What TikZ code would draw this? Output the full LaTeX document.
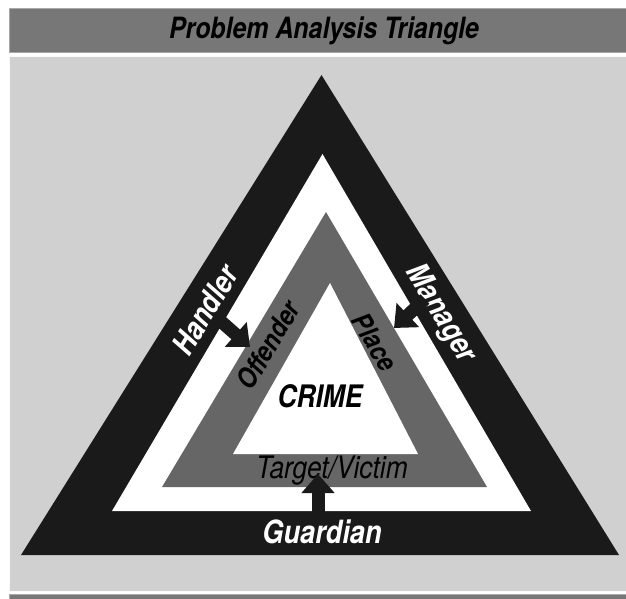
\documentclass[tikz,border=0pt]{standalone}
\usepackage{fontspec}
\setsansfont{TeX Gyre Heros}[FakeStretch=0.85]
\usetikzlibrary{arrows.meta}

\definecolor{bandblack}{HTML}{1A1A1A}
\definecolor{bandgray}{HTML}{666666}
\definecolor{panelgray}{HTML}{D0D0D0}
\definecolor{headgray}{HTML}{777777}
\definecolor{edgegray}{HTML}{A8A8A8}

\tikzset{
  word/.style={font=\sffamily\bfseries\itshape\fontsize{#1}{#1}\selectfont, inner sep=0pt},
  plainword/.style={font=\sffamily\itshape\fontsize{#1}{#1}\selectfont, inner sep=0pt},
  push/.style={line width=13pt, -{Triangle[width=32pt,length=19pt]}, color=bandblack},
}

\begin{document}
\begin{tikzpicture}[x=1pt, y=-1pt]
    \useasboundingbox[fill=white] (0,0) rectangle (626,598);

    % header bar and panel
    \draw[fill=headgray, draw=edgegray, line width=1pt] (9,8) rectangle (627,52);
    \draw[fill=panelgray, draw=white!90!panelgray, line width=1pt] (9,56) rectangle (627,591);
    \draw[fill=headgray, draw=edgegray, line width=1pt] (9,594) rectangle (627,600);
    \node[word=29.3, anchor=base] (title) at (324,38) {Problem Analysis Triangle};

    % the four triangles
    \coordinate (o1) at (321.5,75);  \coordinate (o2) at (21,555);  \coordinate (o3) at (619,555);
    \coordinate (w1) at (322.5,154); \coordinate (w2) at (112,511); \coordinate (w3) at (531,511);
    \coordinate (g1) at (326,212);   \coordinate (g2) at (162,487); \coordinate (g3) at (487,487);
    \coordinate (c1) at (330,283);   \coordinate (c2) at (233,454); \coordinate (c3) at (418,454);
    \fill[bandblack] (o1) -- (o2) -- (o3) -- cycle;
    \fill[white] (w1) -- (w2) -- (w3) -- cycle;
    \fill[bandgray] (g1) -- (g2) -- (g3) -- cycle;
    \fill[white] (c1) -- (c2) -- (c3) -- cycle;

    \node[word=31, white, rotate=59] (handler) at (205,310) {Handler};
    \node[word=31, white, rotate=-59] (manager) at (440,314) {Manager};
    \node[word=32, white, anchor=base] (guardian) at (322,543) {Guardian};
    \node[word=27.5, rotate=59] (offender) at (268,345) {Offender};
    \node[word=27.5, rotate=-59] (place) at (375,342) {Place};
    \node[word=31, anchor=base] (crime) at (320,407) {CRIME};
    \node[plainword=31, anchor=base] (target) at (332,478) {Target/Victim};

    % arrows from the outer band to the inner one
    \coordinate (handlerfrom) at (216,317);  \coordinate (handlerto) at (250,347);
    \coordinate (managerfrom) at (425,299);  \coordinate (managerto) at (394,328);
    \coordinate (guardianfrom) at (318,520); \coordinate (guardianto) at (318,474);
    \draw[push] (handlerfrom) -- (handlerto);
    \draw[push] (managerfrom) -- (managerto);
    \draw[push] (guardianfrom) -- (guardianto);
\end{tikzpicture}
\end{document}
